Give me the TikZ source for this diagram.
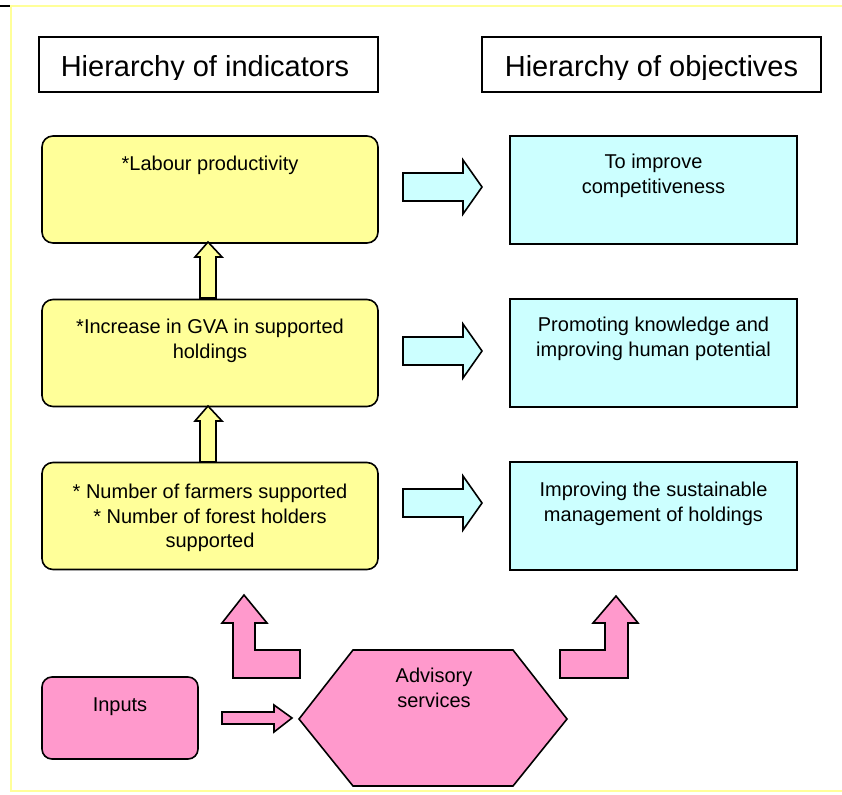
\documentclass[tikz,border=0pt]{standalone}
\usepackage{fontspec}
\setmainfont{Liberation Sans}
\definecolor{indyellow}{HTML}{FFFF99}
\definecolor{objcyan}{HTML}{CCFFFF}
\definecolor{advpink}{HTML}{FF99CC}
\tikzset{
  titlebox/.style={draw=black, line width=1.8pt, minimum width=339, minimum height=55, inner sep=0},
  titletext/.style={anchor=base, inner sep=0, font=\fontsize{29}{34}\selectfont},
  indbox/.style={draw=black, line width=1.6pt, fill=indyellow, rounded corners=11pt, minimum width=336, minimum height=107, inner sep=0},
  objbox/.style={draw=black, line width=1.6pt, fill=objcyan, minimum width=287, minimum height=108, inner sep=0},
  boxtext/.style={anchor=north, align=center, inner sep=0, font=\fontsize{20}{24.5}\selectfont},
  blockarrow/.style={draw=black, line width=1.6pt, line join=miter},
}

\begin{document}
\begin{tikzpicture}[x=1pt, y=-1pt]
\useasboundingbox (0,0) rectangle (842,794);

% frame
\draw [indyellow, line width=2.5pt] (842,6) -- (11,6) -- (11,791) -- (842,791);
\draw [black, line width=1.5pt] (0,6) -- (10,6);

% titles
\node[titlebox] (indtitle) at (208.5,64.5) {};
\node[titlebox] (objtitle) at (651.5,64.5) {};
\begin{scope}
\clip (39,37) rectangle (821,80);
\node[titletext] (indtitle-txt) at (205,77) {Hierarchy of indicators};
\node[titletext] (objtitle-txt) at (651.5,77) {Hierarchy of objectives};
\end{scope}

% hierarchy of indicators
\node[indbox] (labour) at (210,189.5) {};
\node[boxtext] (labour-txt) at (210,156) {*Labour productivity};
\node[indbox] (gva) at (210,353) {};
\node[boxtext] (gva-txt) at (210,319) {*Increase in GVA in supported\\holdings};
\node[indbox] (farmers) at (210,516) {};
\node[boxtext] (farmers-txt) at (210,484) {* Number of farmers supported\\* Number of forest holders\\supported};

% hierarchy of objectives
\node[objbox] (compet) at (653.5,190) {};
\node[boxtext] (compet-txt) at (653.5,154) {To improve\\competitiveness};
\node[objbox] (knowledge) at (653.5,353) {};
\node[boxtext] (knowledge-txt) at (653.5,317) {Promoting knowledge and\\improving human potential};
\node[objbox] (manage) at (653.5,516) {};
\node[boxtext] (manage-txt) at (653.5,482) {Improving the sustainable\\management of holdings};

% inputs and advisory services
\node[indbox, fill=advpink, rounded corners=10pt, minimum width=156, minimum height=82] (inputs) at (120,718) {};
\node[boxtext] (inputs-txt) at (120,698) {Inputs};
\draw [blockarrow, fill=advpink] (353,650) -- (513,650) -- (567,719) -- (513,786) -- (353,786) -- (299,719) -- cycle;
\node[boxtext] (advisory-txt) at (434,668) {Advisory\\services};

% arrows indicators -> objectives
\draw [blockarrow, fill=objcyan] (403,173) -- (463,173) -- (463,160) -- (482,187) -- (463,214) -- (463,201) -- (403,201) -- cycle;
\draw [blockarrow, fill=objcyan] (403,337) -- (463,337) -- (463,324) -- (482,351) -- (463,378) -- (463,365) -- (403,365) -- cycle;
\draw [blockarrow, fill=objcyan] (403,489) -- (463,489) -- (463,476) -- (482,503) -- (463,530) -- (463,517) -- (403,517) -- cycle;

% arrows up the indicators
\draw [blockarrow, fill=indyellow] (200,298) -- (200,257) -- (195,257) -- (208,242) -- (222,257) -- (216,257) -- (216,298) -- cycle;
\draw [blockarrow, fill=indyellow] (200,462) -- (200,421) -- (195,421) -- (208,406) -- (222,421) -- (216,421) -- (216,462) -- cycle;

% bent arrows from advisory services
\draw [blockarrow, fill=advpink] (233,678) -- (233,623) -- (222,623) -- (244,595) -- (267,623) -- (255,623) -- (255,650) -- (300,650) -- (300,678) -- cycle;
\draw [blockarrow, fill=advpink] (628,678) -- (628,623) -- (638,623) -- (616,596) -- (593,623) -- (605,623) -- (605,650) -- (560,650) -- (560,678) -- cycle;

% inputs -> advisory services
\draw [blockarrow, fill=advpink] (222,712) -- (274,712) -- (274,705) -- (292,718) -- (274,732) -- (274,724) -- (222,724) -- cycle;
\end{tikzpicture}
\end{document}
